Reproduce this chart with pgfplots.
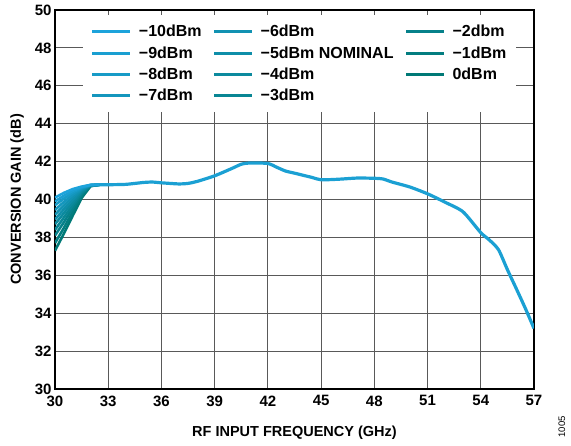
\documentclass[border=0pt]{standalone}
\usepackage{fontspec}
\setmainfont{Liberation Sans}
\usepackage{pgfplots}
\usepackage{pgfplotstable}
\pgfplotsset{compat=1.18}
\definecolor{cA}{RGB}{29,163,219}
\definecolor{cB}{RGB}{0,121,118}
\colorlet{cm10}{cA}
\colorlet{cm9}{cB!10!cA}
\colorlet{cm8}{cB!20!cA}
\colorlet{cm7}{cB!30!cA}
\colorlet{cm6}{cB!40!cA}
\colorlet{cm5}{cB!50!cA}
\colorlet{cm4}{cB!60!cA}
\colorlet{cm3}{cB!70!cA}
\colorlet{cm2}{cB!80!cA}
\colorlet{cm1}{cB!90!cA}
\colorlet{cm0}{cB}
\pgfplotstableread{
x     m10   m9    m8    m7    m6    m5    m4    m3    m2    m1    m0
30    40.10 39.90 39.70 39.45 39.20 38.95 38.70 38.40 38.10 37.70 37.30
30.5  40.35 40.20 40.05 39.87 39.68 39.48 39.28 39.05 38.80 38.50 38.20
31    40.55 40.46 40.37 40.26 40.14 40.00 39.85 39.70 39.55 39.35 39.15
31.5  40.68 40.65 40.62 40.58 40.54 40.48 40.42 40.35 40.27 40.18 40.08
32    40.77 40.77 40.76 40.76 40.75 40.75 40.74 40.73 40.72 40.71 40.70
32.5  40.78 40.78 40.78 40.78 40.78 40.78 40.78 40.78 40.78 40.78 40.78
}\startdata
\pgfplotstableread{
x     y
32.5  40.78
33    40.78
34    40.80
35    40.90
35.5  40.92
36    40.88
37    40.82
37.5  40.85
38    40.95
39    41.25
40    41.65
40.5  41.86
41    41.93
42    41.90
42.5  41.70
43    41.50
43.5  41.39
44.5  41.16
45    41.04
46    41.07
47    41.13
48    41.12
48.5  41.08
49    40.92
50    40.66
51    40.30
52    39.85
53    39.35
54    38.25
54.5  37.85
55    37.35
55.5  36.30
56    35.30
56.5  34.28
57    33.20
}\commondata
\begin{document}
\begin{tikzpicture}
\path[use as bounding box] (-55pt,-57pt) rectangle (516pt,379pt+10pt);
\begin{axis}[
  at={(0pt,0pt)}, anchor=south west,
  scale only axis, width=479pt, height=379pt,
  xmin=30, xmax=57, ymin=30, ymax=50,
  xtick={30,33,...,57}, ytick={30,32,...,50},
  major tick length=0pt,
  clip mode=individual,
  grid=major,
  major grid style={draw=black!65, line width=0.9pt},
  axis line style={line width=1.3pt},
  /pgf/number format/assume math mode=true,
  tick label style={font=\bfseries\fontsize{15}{17}\selectfont},
  xticklabel style={yshift=-3pt},
  xlabel={RF INPUT FREQUENCY (GHz)},
  ylabel={CONVERSION GAIN (dB)},
  every axis x label/.style={at={(axis description cs:0.5,-0.116)}, anchor=center, font=\bfseries\fontsize{14.5}{16}\selectfont},
  every axis y label/.style={at={(axis description cs:-0.079,0.5)}, rotate=90, anchor=center, font=\bfseries\fontsize{14.5}{16}\selectfont},
  legend columns=3,
  legend cell align=left,
  legend image code/.code={\draw[line width=3pt] (0pt,0pt) -- (38pt,0pt);},
  legend style={at={(axis description cs:0.058,0.987)}, anchor=north west,
    draw=none, fill=white, inner xsep=8pt, inner ysep=8pt,
    font=\bfseries\fontsize{16}{18}\selectfont, row sep=4.3pt,
    /tikz/every odd column/.append style={column sep=5pt},
    /tikz/every even column/.append style={column sep=9pt}},
]
\addplot[cm0, line width=2.6pt, line join=round, forget plot] table[x=x,y=m0] {\startdata};
\addplot[cm1, line width=2.6pt, line join=round, forget plot] table[x=x,y=m1] {\startdata};
\addplot[cm2, line width=2.6pt, line join=round, forget plot] table[x=x,y=m2] {\startdata};
\addplot[cm3, line width=2.6pt, line join=round, forget plot] table[x=x,y=m3] {\startdata};
\addplot[cm4, line width=2.6pt, line join=round, forget plot] table[x=x,y=m4] {\startdata};
\addplot[cm5, line width=2.6pt, line join=round, forget plot] table[x=x,y=m5] {\startdata};
\addplot[cm6, line width=2.6pt, line join=round, forget plot] table[x=x,y=m6] {\startdata};
\addplot[cm7, line width=2.6pt, line join=round, forget plot] table[x=x,y=m7] {\startdata};
\addplot[cm8, line width=2.6pt, line join=round, forget plot] table[x=x,y=m8] {\startdata};
\addplot[cm9, line width=2.6pt, line join=round, forget plot] table[x=x,y=m9] {\startdata};
\addplot[cm10, line width=2.6pt, line join=round, forget plot] table[x=x,y=m10] {\startdata};
\addplot[cm10!85!cm5, line width=3.2pt, line join=round, smooth, tension=0.4, forget plot] table[x=x,y=y] {\commondata};
\addlegendimage{cm10}\addlegendentry{−10dBm}
\addlegendimage{cm6}\addlegendentry{−6dBm}
\addlegendimage{cm2}\addlegendentry{−2dbm}
\addlegendimage{cm9}\addlegendentry{−9dBm}
\addlegendimage{cm5}\addlegendentry{−5dBm NOMINAL}
\addlegendimage{cm1}\addlegendentry{−1dBm}
\addlegendimage{cm8}\addlegendentry{−8dBm}
\addlegendimage{cm4}\addlegendentry{−4dBm}
\addlegendimage{cm0}\addlegendentry{0dBm}
\addlegendimage{cm7}\addlegendentry{−7dBm}
\addlegendimage{cm3}\addlegendentry{−3dBm}
\node[rotate=90, font=\fontsize{9.5}{10}\selectfont, anchor=center] at (axis description cs:1.058,-0.1) {1005};
\end{axis}
\end{tikzpicture}
\end{document}
